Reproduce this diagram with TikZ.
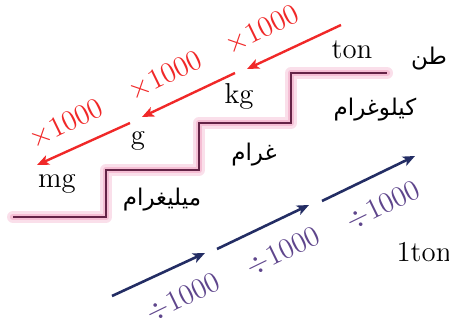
\documentclass[tikz,border=0pt]{standalone}
\usepackage{fontspec}
\newfontfamily\arabicfont[Script=Arabic]{DejaVu Sans}
\TeXXeTstate=1
\usetikzlibrary{arrows.meta}
\definecolor{stairdark}{RGB}{100,35,70}
\definecolor{stairglow}{RGB}{245,190,212}
\definecolor{upnavy}{RGB}{35,45,100}
\definecolor{divpurple}{RGB}{95,70,140}
\definecolor{mulred}{RGB}{240,40,40}

\begin{document}
\begin{tikzpicture}[
  x=0.5pt, y=-0.5pt,
  font=\Large,
  u/.style={inner sep=1pt},
  ar/.style={font=\arabicfont\fontsize{11.5}{14}\selectfont, inner sep=1pt},
  down/.style={-{Stealth[length=6pt, width=5pt, inset=1.5pt]}, mulred, line width=1.2pt},
  up/.style={-{Stealth[length=6pt, width=5pt, inset=1.5pt]}, upnavy, line width=1.3pt},
  mul/.style={mulred, rotate=26, inner sep=1pt},
  dvd/.style={divpurple, rotate=26, inner sep=1pt}
]
\useasboundingbox (0,0) rectangle (449,335);
% stairs
\draw[stairglow!50, line width=6pt, line join=round, line cap=round]
  (13,217) -| (106,170) -| (199,123) -| (291,73) -- (387,73);
\draw[stairglow, line width=3.2pt, line join=round, line cap=round]
  (13,217) -| (106,170) -| (199,123) -| (291,73) -- (387,73);
\draw[stairdark, line width=1.3pt]
  (13,217) -| (106,170) -| (199,123) -| (291,73) -- (387,73);

\node[u] (mg) at (57,184) {mg};
\node[u] (g) at (138,141) {g};
\node[u] (kg) at (239,96) {kg};
\node[u] (ton) at (352,50) {ton};
\node[u] (oneton) at (424,252) {1ton};

\node[ar] (mgAr) at (162,200) {\beginR ميليغرام\endR};
\node[ar] (gAr) at (254,155) {\beginR غرام\endR};
\node[ar] (kgAr) at (375,110) {\beginR كيلوغرام\endR};
\node[ar] (tonAr) at (429,59) {\beginR طن\endR};

\node[mul] (m1) at (262,30) {$\times1000$};
\node[mul] (m2) at (165,76) {$\times1000$};
\node[mul] (m3) at (66,124) {$\times1000$};
\node[dvd] (d1) at (183,298) {$\div1000$};
\node[dvd] (d2) at (283,252) {$\div1000$};
\node[dvd] (d3) at (383,206) {$\div1000$};

\coordinate (r1s) at (341,25);  \coordinate (r1e) at (247,69);
\coordinate (r2s) at (235,73);  \coordinate (r2e) at (142,117);
\coordinate (r3s) at (130,123); \coordinate (r3e) at (37,165);
\coordinate (b1s) at (112,296); \coordinate (b1e) at (205,253);
\coordinate (b2s) at (217,249); \coordinate (b2e) at (309,205);
\coordinate (b3s) at (322,201); \coordinate (b3e) at (415,156);
\foreach \x/\y in {r1s/r1e, r2s/r2e, r3s/r3e} {
  \draw[down] (\x) -- (\y);
}
\foreach \x/\y in {b1s/b1e, b2s/b2e, b3s/b3e} {
  \draw[up] (\x) -- (\y);
}
\end{tikzpicture}
\end{document}
